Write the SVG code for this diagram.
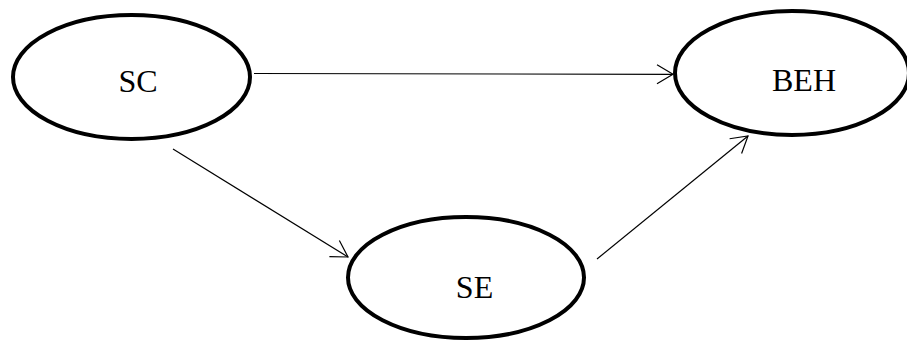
<svg xmlns="http://www.w3.org/2000/svg" width="907" height="342" viewBox="0 0 907 342">
  <style>
    .node { fill: #ffffff; stroke: #000000; stroke-width: 4; }
    .label { font-family: "Liberation Serif", "Times New Roman", serif; font-size: 32px; fill: #000000; text-anchor: middle; }
    .edge { stroke: #000000; stroke-width: 1.2; fill: none; marker-end: url(#arrow); }
  </style>
  <defs>
    <marker id="arrow" markerUnits="userSpaceOnUse" viewBox="-20 -11 22 22" refX="0" refY="0" markerWidth="22" markerHeight="22" orient="auto">
      <path d="M -16 -9.5 L 0 0 L -16 9.5" fill="none" stroke="#000000" stroke-width="1.2"/>
    </marker>
  </defs>
  <rect width="907" height="342" fill="#ffffff"/>
  <g id="node-SC">
    <ellipse class="node" cx="131.5" cy="77" rx="118.5" ry="62"/>
    <text class="label" x="138" y="91.5">SC</text>
  </g>
  <g id="node-BEH">
    <ellipse class="node" cx="792" cy="73" rx="117" ry="62"/>
    <text class="label" x="804" y="91">BEH</text>
  </g>
  <g id="node-SE">
    <ellipse class="node" cx="466" cy="277.5" rx="118" ry="60.5"/>
    <text class="label" x="474.5" y="298.3">SE</text>
  </g>
  <g id="connectors">
    <line class="edge" x1="254" y1="73.5" x2="673" y2="74.3"/>
    <line class="edge" x1="173" y1="149" x2="348" y2="257"/>
    <line class="edge" x1="597" y1="259" x2="748" y2="136"/>
  </g>
</svg>
